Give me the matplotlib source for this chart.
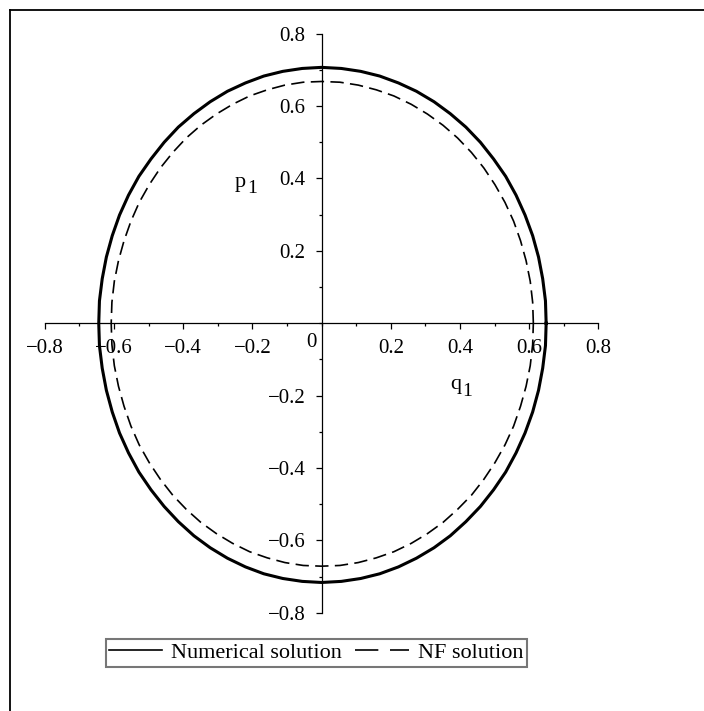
import matplotlib
matplotlib.use("Agg")
import matplotlib.pyplot as plt
from matplotlib.lines import Line2D
from matplotlib.ticker import MultipleLocator, FuncFormatter

plt.rcParams['font.family'] = ['Liberation Serif', 'DejaVu Serif']

# numerical orbit (q1, p1), read every 5 degrees around the loop
num_q = [0.649, 0.647, 0.639, 0.627, 0.610, 0.588, 0.562, 0.532, 0.497, 0.459,
         0.417, 0.372, 0.325, 0.274, 0.222, 0.168, 0.113, 0.057, 0.000,
         -0.056, -0.112, -0.167, -0.220, -0.272, -0.322, -0.369, -0.414, -0.455,
         -0.493, -0.528, -0.558, -0.584, -0.605, -0.622, -0.634, -0.642, -0.644,
         -0.642, -0.634, -0.622, -0.605, -0.584, -0.558, -0.528, -0.493, -0.455,
         -0.414, -0.369, -0.322, -0.272, -0.220, -0.167, -0.112, -0.056, 0.000,
         0.057, 0.113, 0.168, 0.222, 0.274, 0.325, 0.372, 0.417, 0.459,
         0.497, 0.532, 0.562, 0.588, 0.610, 0.627, 0.639, 0.647, 0.649]
num_p = [0.000, 0.062, 0.123, 0.183, 0.242, 0.299, 0.354, 0.406, 0.454, 0.500,
         0.542, 0.579, 0.612, 0.641, 0.664, 0.683, 0.696, 0.704, 0.707,
         0.704, 0.696, 0.683, 0.664, 0.641, 0.612, 0.579, 0.542, 0.500,
         0.454, 0.406, 0.354, 0.299, 0.242, 0.183, 0.123, 0.062, 0.000,
         -0.062, -0.124, -0.185, -0.245, -0.303, -0.358, -0.411, -0.460, -0.506,
         -0.548, -0.587, -0.620, -0.649, -0.673, -0.692, -0.705, -0.713, -0.716,
         -0.713, -0.705, -0.692, -0.673, -0.649, -0.620, -0.587, -0.548, -0.506,
         -0.460, -0.411, -0.358, -0.303, -0.245, -0.185, -0.124, -0.062, 0.000]

# normal form orbit
nf_q = [0.612, 0.610, 0.603, 0.591, 0.575, 0.555, 0.530, 0.501, 0.469, 0.433,
        0.393, 0.351, 0.306, 0.259, 0.209, 0.158, 0.106, 0.053, 0.000,
        -0.053, -0.106, -0.157, -0.208, -0.257, -0.304, -0.349, -0.391, -0.430,
        -0.466, -0.498, -0.527, -0.551, -0.571, -0.587, -0.599, -0.606, -0.608,
        -0.606, -0.599, -0.587, -0.571, -0.551, -0.527, -0.498, -0.466, -0.430,
        -0.391, -0.349, -0.304, -0.257, -0.208, -0.157, -0.106, -0.053, 0.000,
        0.053, 0.106, 0.158, 0.209, 0.259, 0.306, 0.351, 0.393, 0.433,
        0.469, 0.501, 0.530, 0.555, 0.575, 0.591, 0.603, 0.610, 0.612]
nf_p = [0.000, 0.058, 0.116, 0.173, 0.228, 0.282, 0.334, 0.383, 0.429, 0.472,
        0.512, 0.547, 0.578, 0.605, 0.628, 0.645, 0.658, 0.666, 0.668,
        0.666, 0.658, 0.645, 0.628, 0.605, 0.578, 0.547, 0.512, 0.472,
        0.429, 0.383, 0.334, 0.282, 0.228, 0.173, 0.116, 0.058, 0.000,
        -0.059, -0.117, -0.174, -0.229, -0.284, -0.336, -0.385, -0.431, -0.475,
        -0.514, -0.550, -0.581, -0.608, -0.631, -0.648, -0.661, -0.669, -0.671,
        -0.669, -0.661, -0.648, -0.631, -0.608, -0.581, -0.550, -0.514, -0.475,
        -0.431, -0.385, -0.336, -0.284, -0.229, -0.174, -0.117, -0.059, 0.000]

x_ticks = [-0.8, -0.6, -0.4, -0.2, 0.2, 0.4, 0.6, 0.8]
y_ticks = [-0.8, -0.6, -0.4, -0.2, 0.2, 0.4, 0.6, 0.8]
series_names = ['Numerical solution', 'NF solution']

fig = plt.figure(figsize=(7.04, 7.11), dpi=100)
ax = fig.add_axes([0.0636, 0.138, 0.7864, 0.8146])

ax.plot(num_q, num_p, color='black', lw=2.2, solid_joinstyle='round')
ax.plot(nf_q, nf_p, color='black', lw=1.2, linestyle=(0, (8, 3.8)))

ax.set_xlim(-0.8, 0.8)
ax.set_ylim(-0.8, 0.8)

# axes crossing at the origin
for side in ['top', 'right']:
    ax.spines[side].set_visible(False)
ax.spines['left'].set_position('zero')
ax.spines['bottom'].set_position('zero')
for side in ['left', 'bottom']:
    ax.spines[side].set_linewidth(0.9)

ax.set_xticks(x_ticks)
ax.set_yticks(y_ticks)
ax.xaxis.set_minor_locator(MultipleLocator(0.1))
ax.yaxis.set_minor_locator(MultipleLocator(0.1))
fmt = FuncFormatter(lambda v, pos: f'{v:.1f}'.replace('-', '\u2212'))
ax.xaxis.set_major_formatter(fmt)
ax.yaxis.set_major_formatter(fmt)
ax.tick_params(which='major', direction='out', length=4.5, width=0.9,
               labelsize=15, pad=7)
ax.tick_params(which='minor', direction='out', length=2.2, width=0.9)
ax.text(-0.03, -0.028, '0', fontsize=15, ha='center', va='top')


def sub_label(x, y, base, sub):
    ax.text(x, y, base, fontsize=16, ha='right', va='center')
    ax.annotate(sub, xy=(x, y), xytext=(0.5, -4.5), textcoords='offset points',
                fontsize=14, ha='left', va='center')


sub_label(0.403, -0.17, 'q', '1')
sub_label(-0.218, 0.39, 'p', '1')

handles = [Line2D([], [], color='black', lw=1.2),
           Line2D([], [], color='black', lw=1.2, linestyle=(0, (14, 7)))]
leg = fig.legend(handles, series_names,
                 loc='center', bbox_to_anchor=(0.449, 0.0816), ncol=2,
                 fontsize=16, frameon=True, fancybox=False, handlelength=2.4,
                 handletextpad=0.4, columnspacing=0.6, borderpad=0.15,
                 borderaxespad=0)
leg.get_frame().set_edgecolor('#555555')
leg.get_frame().set_linewidth(1.5)

# page frame: top and left edges
fig.add_artist(Line2D([9.5 / 704, 1.0], [1 - 9.5 / 711, 1 - 9.5 / 711],
                      transform=fig.transFigure, color='black', lw=1.3))
fig.add_artist(Line2D([9.5 / 704, 9.5 / 704], [0.0, 1 - 9.5 / 711],
                      transform=fig.transFigure, color='black', lw=1.3))

fig.savefig('out.png', dpi=100)
